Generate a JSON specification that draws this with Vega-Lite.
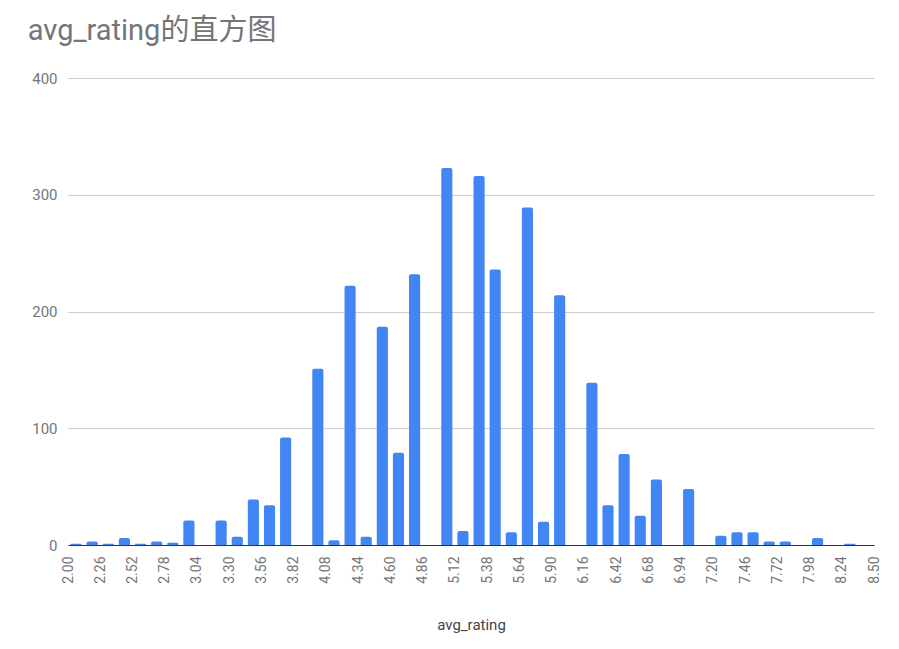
{
  "$schema": "https://vega.github.io/schema/vega-lite/v6.json",
  "width": 806,
  "height": 467,
  "autosize": "none",
  "padding": {"left": 68, "top": 78, "right": 25, "bottom": 104},
  "background": "white",
  "title": {
    "text": "avg_rating的直方图",
    "anchor": "start",
    "frame": "bounds",
    "dx": -4,
    "offset": 25,
    "font": "Roboto, Noto Sans CJK SC",
    "fontSize": 29,
    "fontWeight": "normal",
    "color": "#757575"
  },
  "config": {
    "view": {"stroke": null},
    "font": "Roboto, Noto Sans CJK SC"
  },
  "data": {
    "values": [
      {"bin_start": 2.00, "bin_end": 2.13, "count": 1},
      {"bin_start": 2.13, "bin_end": 2.26, "count": 3},
      {"bin_start": 2.26, "bin_end": 2.39, "count": 1},
      {"bin_start": 2.39, "bin_end": 2.52, "count": 6},
      {"bin_start": 2.52, "bin_end": 2.65, "count": 1},
      {"bin_start": 2.65, "bin_end": 2.78, "count": 3},
      {"bin_start": 2.78, "bin_end": 2.91, "count": 2},
      {"bin_start": 2.91, "bin_end": 3.04, "count": 21},
      {"bin_start": 3.17, "bin_end": 3.30, "count": 21},
      {"bin_start": 3.30, "bin_end": 3.43, "count": 7},
      {"bin_start": 3.43, "bin_end": 3.56, "count": 39},
      {"bin_start": 3.56, "bin_end": 3.69, "count": 34},
      {"bin_start": 3.69, "bin_end": 3.82, "count": 92},
      {"bin_start": 3.95, "bin_end": 4.08, "count": 151},
      {"bin_start": 4.08, "bin_end": 4.21, "count": 4},
      {"bin_start": 4.21, "bin_end": 4.34, "count": 222},
      {"bin_start": 4.34, "bin_end": 4.47, "count": 7},
      {"bin_start": 4.47, "bin_end": 4.60, "count": 187},
      {"bin_start": 4.60, "bin_end": 4.73, "count": 79},
      {"bin_start": 4.73, "bin_end": 4.86, "count": 232},
      {"bin_start": 4.99, "bin_end": 5.12, "count": 323},
      {"bin_start": 5.12, "bin_end": 5.25, "count": 12},
      {"bin_start": 5.25, "bin_end": 5.38, "count": 316},
      {"bin_start": 5.38, "bin_end": 5.51, "count": 236},
      {"bin_start": 5.51, "bin_end": 5.64, "count": 11},
      {"bin_start": 5.64, "bin_end": 5.77, "count": 289},
      {"bin_start": 5.77, "bin_end": 5.90, "count": 20},
      {"bin_start": 5.90, "bin_end": 6.03, "count": 214},
      {"bin_start": 6.16, "bin_end": 6.29, "count": 139},
      {"bin_start": 6.29, "bin_end": 6.42, "count": 34},
      {"bin_start": 6.42, "bin_end": 6.55, "count": 78},
      {"bin_start": 6.55, "bin_end": 6.68, "count": 25},
      {"bin_start": 6.68, "bin_end": 6.81, "count": 56},
      {"bin_start": 6.94, "bin_end": 7.07, "count": 48},
      {"bin_start": 7.20, "bin_end": 7.33, "count": 8},
      {"bin_start": 7.33, "bin_end": 7.46, "count": 11},
      {"bin_start": 7.46, "bin_end": 7.59, "count": 11},
      {"bin_start": 7.59, "bin_end": 7.72, "count": 3},
      {"bin_start": 7.72, "bin_end": 7.85, "count": 3},
      {"bin_start": 7.98, "bin_end": 8.11, "count": 6},
      {"bin_start": 8.24, "bin_end": 8.37, "count": 1}
    ]
  },
  "mark": {
    "type": "bar",
    "color": "#4285F4",
    "xOffset": 2.5,
    "x2Offset": -2.5,
    "cornerRadiusTopLeft": 2,
    "cornerRadiusTopRight": 2
  },
  "encoding": {
    "x": {
      "field": "bin_start",
      "type": "quantitative",
      "scale": {"domain": [2, 8.5], "nice": false, "zero": false},
      "axis": {
        "title": "avg_rating",
        "titleFont": "Roboto",
        "titleFontSize": 15,
        "titleFontWeight": "normal",
        "titleColor": "#444444",
        "titlePadding": 34,
        "values": [2, 2.26, 2.52, 2.78, 3.04, 3.3, 3.56, 3.82, 4.08, 4.34, 4.6, 4.86, 5.12, 5.38, 5.64, 5.9, 6.16, 6.42, 6.68, 6.94, 7.2, 7.46, 7.72, 7.98, 8.24, 8.5],
        "format": ".2f",
        "labelAngle": 270,
        "labelOverlap": false,
        "labelFont": "Roboto",
        "labelFontSize": 14,
        "labelColor": "#757575",
        "labelPadding": 11,
        "ticks": false,
        "grid": false,
        "domain": true,
        "domainColor": "#333333",
        "domainWidth": 1,
        "labelBound": false,
        "labelFlush": false
      }
    },
    "x2": {"field": "bin_end"},
    "y": {
      "field": "count",
      "type": "quantitative",
      "scale": {"domain": [0, 400], "nice": false, "padding": 0},
      "axis": {
        "title": null,
        "values": [0, 100, 200, 300, 400],
        "labelFont": "Roboto",
        "labelFontSize": 15,
        "labelColor": "#757575",
        "labelPadding": 11,
        "ticks": false,
        "domain": false,
        "grid": true,
        "gridColor": "#cccccc",
        "gridWidth": 1
      }
    },
    "y2": {"datum": 0}
  }
}
